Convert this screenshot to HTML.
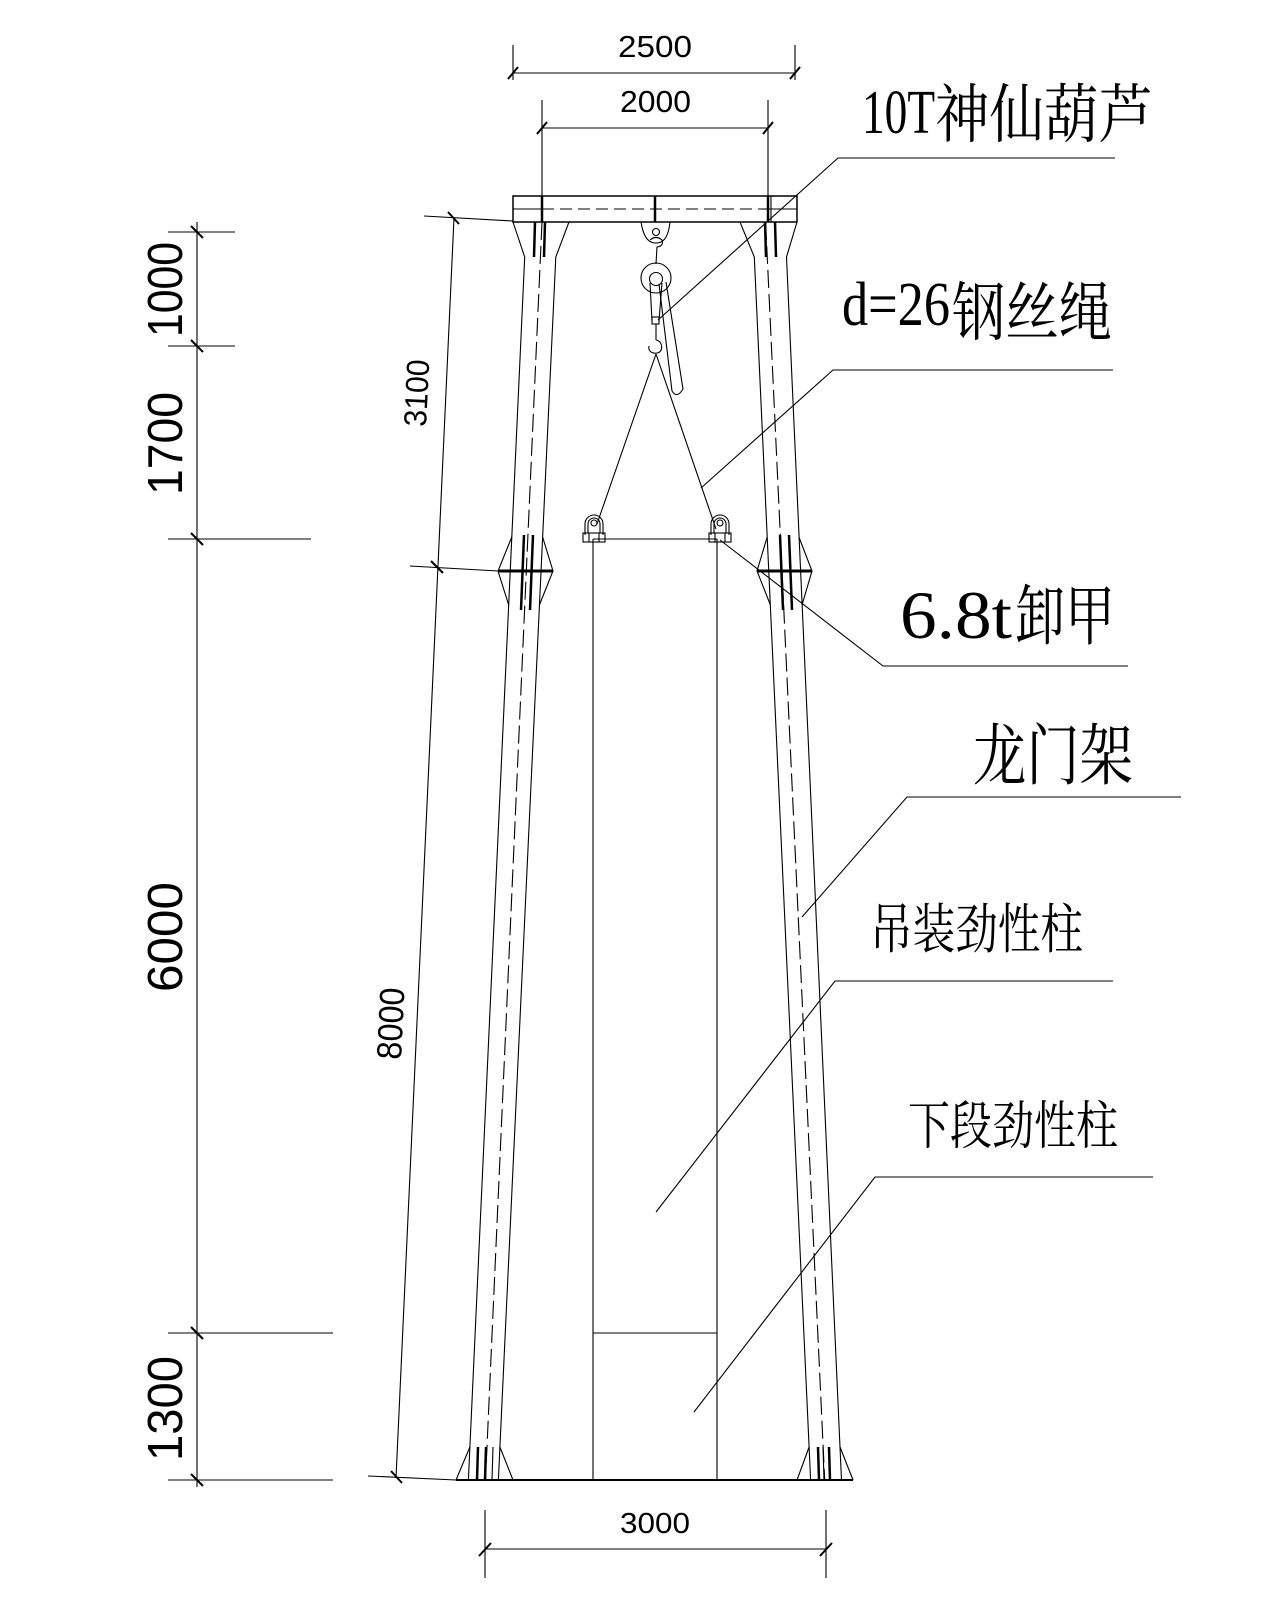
<!DOCTYPE html>
<html><head><meta charset="utf-8">
<style>
html,body{margin:0;padding:0;background:#fff;}
svg{display:block;}
</style></head><body>
<svg width="1280" height="1600" viewBox="0 0 1280 1600" xmlns="http://www.w3.org/2000/svg">
<rect x="0" y="0" width="1280" height="1600" fill="#fff"/>
<g stroke="#000" stroke-width="1.1" fill="none">
  <!-- top dimension 2500 -->
  <line x1="513" y1="73" x2="795" y2="73"/>
  <line x1="513" y1="45" x2="513" y2="80"/>
  <line x1="795" y1="45" x2="795" y2="80"/>
  <line x1="508" y1="79" x2="518" y2="67" stroke-width="2"/>
  <line x1="790" y1="79" x2="800" y2="67" stroke-width="2"/>
  <!-- top dimension 2000 -->
  <line x1="542" y1="128" x2="768" y2="128"/>
  <line x1="542" y1="100" x2="542" y2="196"/>
  <line x1="768" y1="100" x2="768" y2="196"/>
  <line x1="537" y1="134" x2="547" y2="122" stroke-width="2"/>
  <line x1="763" y1="134" x2="773" y2="122" stroke-width="2"/>

  <!-- bottom dimension 3000 -->
  <line x1="485" y1="1549" x2="826" y2="1549"/>
  <line x1="485" y1="1510" x2="485" y2="1578"/>
  <line x1="826" y1="1510" x2="826" y2="1578"/>
  <line x1="479" y1="1556" x2="491" y2="1543" stroke-width="2"/>
  <line x1="820" y1="1556" x2="832" y2="1543" stroke-width="2"/>

  <!-- left vertical dimensions -->
  <line x1="197" y1="222" x2="197" y2="1487"/>
  <line x1="168" y1="232" x2="235" y2="232"/>
  <line x1="168" y1="346" x2="235" y2="346"/>
  <line x1="168" y1="539" x2="311" y2="539"/>
  <line x1="168" y1="1333" x2="333" y2="1333"/>
  <line x1="168" y1="1480" x2="333" y2="1480"/>
  <g stroke-width="2">
    <line x1="191" y1="226" x2="203" y2="238"/>
    <line x1="191" y1="340" x2="203" y2="352"/>
    <line x1="191" y1="533" x2="203" y2="545"/>
    <line x1="191" y1="1327" x2="203" y2="1339"/>
    <line x1="191" y1="1474" x2="203" y2="1486"/>
  </g>

  <!-- slanted aligned dimension 3100 / 8000 -->
  <line x1="454" y1="218" x2="396" y2="1478"/>
  <line x1="424" y1="216" x2="513" y2="221"/>
  <line x1="410" y1="566" x2="498" y2="571"/>
  <line x1="368" y1="1476" x2="456" y2="1480"/>
  <g stroke-width="2">
    <line x1="448" y1="212" x2="459" y2="224"/>
    <line x1="431" y1="561" x2="443" y2="573"/>
    <line x1="391" y1="1471" x2="402" y2="1483"/>
  </g>

  <!-- top beam -->
  <rect x="513" y="196" width="284" height="26" stroke-width="1.5"/>
  <line x1="513" y1="209" x2="542" y2="209"/>
  <line x1="542" y1="209" x2="768" y2="209" stroke-dasharray="12 6"/>
  <line x1="768" y1="209" x2="797" y2="209"/>
  <line x1="542" y1="196" x2="542" y2="222" stroke-width="2.5"/>
  <line x1="655" y1="196" x2="655" y2="222" stroke-width="2.5"/>
  <line x1="768" y1="196" x2="768" y2="222" stroke-width="2.5"/>
  <line x1="771" y1="196" x2="771" y2="222"/>

  <!-- LEFT COLUMN -->
  <polyline points="513,222 524.7,257 469.9,1447 456,1480"/>
  <polyline points="569,222 555.8,257 499.9,1447 513,1480"/>
  <line x1="469.9" y1="1447" x2="468.4" y2="1480"/>
  <line x1="499.9" y1="1447" x2="498.4" y2="1480"/>
  <line x1="542" y1="222" x2="485.5" y2="1480" stroke-dasharray="18 6"/>
  <!-- top flare bars -->
  <line x1="535" y1="222" x2="534" y2="257" stroke-width="2.5"/>
  <line x1="545" y1="222" x2="544" y2="257" stroke-width="2.5"/>
  <!-- joint -->
  <polyline points="511.8,537 498,571 508.7,605"/>
  <polyline points="542.6,537 553,571 539.4,605"/>
  <line x1="498" y1="571" x2="553" y2="571" stroke-width="3"/>
  <line x1="524" y1="535" x2="521" y2="610" stroke-width="2.5"/>
  <line x1="533" y1="535" x2="530" y2="610" stroke-width="2.5"/>
  <!-- bottom flare bars -->
  <line x1="478" y1="1447" x2="477" y2="1480" stroke-width="2.5"/>
  <line x1="486" y1="1447" x2="485" y2="1480" stroke-width="2.5"/>
  <line x1="493" y1="1447" x2="492" y2="1480"/>

  <!-- RIGHT COLUMN -->
  <polyline points="740,222 754.3,257 809.1,1447 797,1480"/>
  <polyline points="797,222 786.5,257 840,1447 853,1480"/>
  <line x1="809.1" y1="1447" x2="810.6" y2="1480"/>
  <line x1="840" y1="1447" x2="841.5" y2="1480"/>
  <line x1="765.6" y1="222" x2="824.7" y2="1480" stroke-dasharray="18 6"/>
  <line x1="765" y1="222" x2="766" y2="257" stroke-width="2.5"/>
  <line x1="775" y1="222" x2="776" y2="257" stroke-width="2.5"/>
  <polyline points="767.2,537 757,571 770.4,605"/>
  <polyline points="798.9,537 812,571 802,605"/>
  <line x1="757" y1="571" x2="812" y2="571" stroke-width="3"/>
  <line x1="780" y1="535" x2="783" y2="610" stroke-width="2.5"/>
  <line x1="789" y1="535" x2="792" y2="610" stroke-width="2.5"/>
  <line x1="818" y1="1447" x2="819" y2="1480" stroke-width="2.5"/>
  <line x1="823" y1="1447" x2="824" y2="1480"/>
  <line x1="829" y1="1447" x2="830" y2="1480" stroke-width="2.5"/>

  <!-- base line -->
  <line x1="456" y1="1480" x2="853" y2="1480" stroke-width="2"/>

  <!-- lifted column (middle) -->
  <line x1="593" y1="539" x2="593" y2="1480"/>
  <line x1="717" y1="539" x2="717" y2="1480"/>
  <line x1="593" y1="539" x2="717" y2="539"/>
  <line x1="593" y1="1333" x2="717" y2="1333"/>

  <!-- shackles -->
  <g>
    <path d="M585,535 L585,524 A9,9 0 0 1 603,524 L603,535"/>
    <path d="M588,533 L588,524 A6,6 0 0 1 600,524 L600,533"/>
    <circle cx="594" cy="523" r="3"/>
    <rect x="583" y="533" width="22" height="9"/>
    <line x1="589" y1="533" x2="589" y2="542"/>
    <line x1="599" y1="533" x2="599" y2="542"/>
  </g>
  <g transform="translate(126,0)">
    <path d="M585,535 L585,524 A9,9 0 0 1 603,524 L603,535"/>
    <path d="M588,533 L588,524 A6,6 0 0 1 600,524 L600,533"/>
    <circle cx="594" cy="523" r="3"/>
    <rect x="583" y="533" width="22" height="9"/>
    <line x1="589" y1="533" x2="589" y2="542"/>
    <line x1="599" y1="533" x2="599" y2="542"/>
  </g>

  <!-- hoist -->
  <path d="M641,222 C644,240 650,243 656,243 C662,243 668,240 670,222"/>
  <circle cx="656" cy="232" r="3.5"/>
  <path d="M650,240 Q656,235 662,240 Q664,246 657,247 L656,264"/>
  <circle cx="656" cy="278" r="15"/>
  <circle cx="656" cy="279" r="6.5"/>
  <line x1="650" y1="283" x2="652" y2="321"/>
  <line x1="662" y1="283" x2="659" y2="321"/>
  <rect x="652" y="317" width="7" height="7"/>
  <line x1="656" y1="324" x2="656" y2="340"/>
  <path d="M656,340 C663,341 664,352 657,353 C651,354 648,350 649,346"/>
  <path d="M659,284 L672,391 Q677,399 683,389 L666,282"/>
  <!-- rope -->
  <line x1="656" y1="354" x2="597" y2="524"/>
  <line x1="656" y1="354" x2="716" y2="529"/>

  <!-- leaders -->
  <polyline points="1115,158 838,158 658,320"/>
  <polyline points="1113,370 833,370 701,488"/>
  <polyline points="1128,666 883,666 720,540"/>
  <polyline points="1181,797 907,797 802,917"/>
  <polyline points="1113,981 835,981 656,1212"/>
  <polyline points="1153,1177 875,1177 694,1412"/>
</g>

<!-- dimension texts -->
<g fill="#000" font-family="'Liberation Sans', sans-serif" lengthAdjust="spacingAndGlyphs">
  <text x="618" y="57" font-size="31" textLength="74" lengthAdjust="spacingAndGlyphs">2500</text>
  <text x="620" y="112" font-size="31" textLength="71" lengthAdjust="spacingAndGlyphs">2000</text>
  <text x="620" y="1533" font-size="29" textLength="70" lengthAdjust="spacingAndGlyphs">3000</text>
  <text transform="translate(182,337) rotate(-90)" font-size="49" textLength="95" lengthAdjust="spacingAndGlyphs">1000</text>
  <text transform="translate(182,495) rotate(-90)" font-size="49" textLength="103" lengthAdjust="spacingAndGlyphs">1700</text>
  <text transform="translate(182,992) rotate(-90)" font-size="49" textLength="110" lengthAdjust="spacingAndGlyphs">6000</text>
  <text transform="translate(182,1461) rotate(-90)" font-size="49" textLength="105" lengthAdjust="spacingAndGlyphs">1300</text>
  <text transform="translate(426,427) rotate(-87.2)" font-size="32" textLength="67" lengthAdjust="spacingAndGlyphs">3100</text>
  <text transform="translate(401,1060) rotate(-87.2)" font-size="35" textLength="72" lengthAdjust="spacingAndGlyphs">8000</text>
</g>

<!-- labels -->
<g fill="#000">
  <text x="862" y="133" font-family="'Liberation Serif', serif" font-size="62" textLength="73" lengthAdjust="spacingAndGlyphs">10T</text>
  <text x="935" y="137" font-family="'Liberation Serif', 'Noto Serif CJK SC', serif" font-size="64" textLength="218" lengthAdjust="spacingAndGlyphs">神仙葫芦</text>

  <text x="842" y="325" font-family="'Liberation Serif', serif" font-size="62" textLength="108" lengthAdjust="spacingAndGlyphs">d=26</text>
  <text x="952" y="335" font-family="'Liberation Serif', 'Noto Serif CJK SC', serif" font-size="64" textLength="160" lengthAdjust="spacingAndGlyphs">钢丝绳</text>

  <text x="900" y="638" font-family="'Liberation Serif', serif" font-size="68" textLength="112" lengthAdjust="spacingAndGlyphs">6.8t</text>
  <text x="1015" y="639" font-family="'Liberation Serif', 'Noto Serif CJK SC', serif" font-size="66" textLength="100" lengthAdjust="spacingAndGlyphs">卸甲</text>

  <text x="973" y="779" font-family="'Liberation Serif', 'Noto Serif CJK SC', serif" font-size="67" textLength="160" lengthAdjust="spacingAndGlyphs">龙门架</text>

  <text x="870" y="948" font-family="'Liberation Serif', 'Noto Serif CJK SC', serif" font-size="54" textLength="213" lengthAdjust="spacingAndGlyphs">吊装劲性柱</text>

  <text x="908" y="1144" font-family="'Liberation Serif', 'Noto Serif CJK SC', serif" font-size="52" textLength="210" lengthAdjust="spacingAndGlyphs">下段劲性柱</text>
</g>
</svg>
</body></html>
